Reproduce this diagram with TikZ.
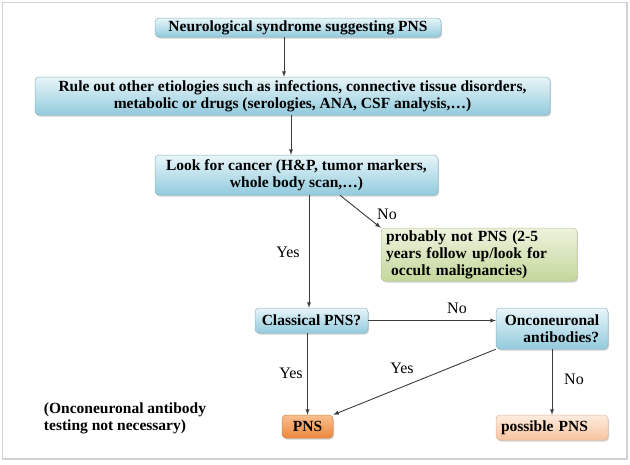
\documentclass[tikz,border=0pt]{standalone}
\usepackage{fontspec}
\setmainfont{Liberation Serif}
\usetikzlibrary{
    arrows,
    shadows,
    positioning
}
\definecolor{bluetop}{RGB}{232,245,249}
\definecolor{bluebot}{RGB}{146,203,221}
\definecolor{greentop}{RGB}{238,243,222}
\definecolor{greenbot}{RGB}{196,215,155}
\definecolor{orangetop}{RGB}{250,192,143}
\definecolor{orangebot}{RGB}{236,134,60}
\definecolor{peachtop}{RGB}{253,236,222}
\definecolor{peachbot}{RGB}{248,196,160}
\definecolor{arrowgray}{RGB}{60,60,60}

\begin{document}
\begin{tikzpicture}[x=1pt, y=-1pt,
    stepbox/.style={rounded corners=4pt, draw=bluebot!70!gray, line width=0.5pt,
        top color=bluetop, bottom color=bluebot, inner sep=0pt,
        drop shadow={shadow xshift=1pt, shadow yshift=-1.5pt, opacity=0.35},
        font=\bfseries\fontsize{15.5}{17}\selectfont, align=center},
    greenbox/.style={stepbox, draw=greenbot!80!gray, top color=greentop, bottom color=greenbot},
    pnsbox/.style={stepbox, draw=orangebot!80!gray, top color=orangetop, bottom color=orangebot},
    maybebox/.style={stepbox, draw=peachbot!80!gray, top color=peachtop, bottom color=peachbot},
    answer/.style={font=\fontsize{16}{18}\selectfont},
    arr/.style={->, >=latex, draw=arrowgray, line width=0.9pt}]

    \useasboundingbox (0,0) rectangle (630,464);
    \draw[gray!35, line width=1.2pt] (2.5,2.5) rectangle (627,459);

    % boxes
    \node[stepbox, minimum width=286pt, minimum height=19pt] (syndrome) at (298,27.5)
        {Neurological syndrome suggesting PNS};
    \node[stepbox, minimum width=515pt, minimum height=38pt] (ruleout) at (292.5,96)
        {Rule out other etiologies such as infections, connective tissue disorders,\\
         metabolic or drugs (serologies, ANA, CSF analysis,\dots)};
    \node[stepbox, minimum width=283pt, minimum height=40pt] (cancer) at (296.5,175)
        {Look for cancer (H\&P, tumor markers,\\ whole body scan,\dots)};
    \node[greenbox, text width=186pt, minimum height=53pt, inner xsep=5pt, align=left] (notpns) at (479,254.5)
        {probably not PNS (2-5\\ years follow up/look for\\ \ occult malignancies)};
    \node[stepbox, minimum width=113pt, minimum height=25pt] (classical) at (311.5,320.5)
        {Classical PNS?};
    \node[stepbox, minimum width=112pt, minimum height=41pt, align=right] (onco) at (552,328.5)
        {Onconeuronal\\ antibodies?};
    \node[pnsbox, minimum width=51pt, minimum height=23pt] (pns) at (307.5,426.5) {PNS};
    \node[maybebox, text width=102pt, minimum height=25pt, inner xsep=5pt, align=left] (possible) at (552,427.5)
        {possible PNS};
    \node[font=\bfseries\fontsize{15.5}{17}\selectfont, align=left] (note) at (125,418)
        {(Onconeuronal antibody\\ testing not necessary)};

    % connectors
    \draw[arr] (syndrome.south -| 284,0) -- (ruleout.north -| 284,0);
    \draw[arr] (ruleout.south -| 291,0) -- (cancer.north -| 291,0);
    \draw[arr] (cancer.south -| 309,0) -- (classical.north -| 309,0);
    \draw[arr] (cancer.south -| 340,0) -- (notpns.north west);
    \draw[arr] (classical.east) -- (onco.west |- classical.east);
    \draw[arr] (classical.south -| pns.north) -- (pns.north);
    \draw[arr] (onco.south west) -- (pns.north east);
    \draw[arr] (onco.south) -- (possible.north);

    % answers
    \node[answer] (yescancer) at (288,252) {Yes};
    \node[answer] (nocancer) at (387,214) {No};
    \node[answer] (noclassical) at (457,308) {No};
    \node[answer] (yesclassical) at (291,373) {Yes};
    \node[answer] (yesonco) at (402,368) {Yes};
    \node[answer] (noonco) at (574,379) {No};
\end{tikzpicture}
\end{document}
